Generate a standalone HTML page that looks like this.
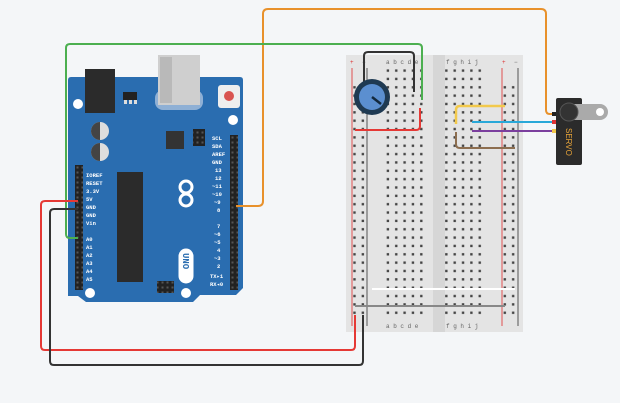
<!DOCTYPE html>
<html><head><meta charset="utf-8"><style>
html,body{margin:0;padding:0;background:#f4f6f8;}
svg{display:block;font-family:"Liberation Mono",monospace;}
</style></head><body>
<svg width="620" height="403" viewBox="0 0 620 403" xmlns="http://www.w3.org/2000/svg">
<defs>
<pattern id="h5" x="0" y="0" width="8.35" height="8.35" patternUnits="userSpaceOnUse">
<rect x="2.6" y="2.6" width="2.4" height="2.4" fill="#444"/></pattern>
<pattern id="hd" x="0" y="0" width="5" height="5" patternUnits="userSpaceOnUse">
<rect width="5" height="5" fill="#222"/><rect x="1.5" y="1.5" width="2" height="2" fill="#555"/></pattern>
</defs>
<rect width="620" height="403" fill="#f4f6f8"/>

<!-- breadboard -->
<rect x="346" y="55" width="177" height="277" fill="#e4e4e4"/>
<rect x="433" y="55" width="12" height="277" fill="#d6d6d6"/>
<g transform="translate(0,0)">
<rect x="384" y="68.5" width="42" height="250" fill="url(#h5)" transform="translate(0,0)"/>
<rect x="444" y="68.5" width="42" height="250" fill="url(#h5)"/>
<rect x="351" y="85" width="17" height="230" fill="url(#h5)"/>
<rect x="501" y="85" width="17" height="230" fill="url(#h5)"/>
</g>
<line x1="352" y1="68" x2="352" y2="326" stroke="#e05050" stroke-width="1"/>
<line x1="367" y1="68" x2="367" y2="326" stroke="#555" stroke-width="1"/>
<line x1="502" y1="68" x2="502" y2="326" stroke="#e05050" stroke-width="1"/>
<line x1="518" y1="68" x2="518" y2="326" stroke="#555" stroke-width="1"/>
<g font-size="6" fill="#666">
<text x="386" y="64">a b c d e</text><text x="446" y="64">f g h i j</text>
<text x="386" y="328">a b c d e</text><text x="446" y="328">f g h i j</text>
<text x="350" y="64" fill="#d33">+</text><text x="362" y="64">−</text>
<text x="502" y="64" fill="#d33">+</text><text x="514" y="64">−</text>
</g>
<line x1="372" y1="289" x2="515" y2="289" stroke="#fff" stroke-width="2"/>
<line x1="355" y1="306" x2="505" y2="306" stroke="#888" stroke-width="2"/>

<!-- arduino -->
<path d="M68 80 Q68 77 71 77 H240 Q243 77 243 80 V288 L236 295 H200 L193 302 H86 L78 296 L68 296 Z" fill="#2a6db0"/>
<rect x="85" y="69" width="30" height="44" fill="#2b2b2b"/>
<rect x="155" y="90" width="48" height="20" rx="8" fill="#8fb0d5"/>
<rect x="158" y="55" width="42" height="50" fill="#cfcfcf"/>
<rect x="160" y="57" width="12" height="46" fill="#b9b9b9"/>
<rect x="218" y="85" width="22" height="23" rx="3" fill="#eee"/>
<circle cx="229" cy="96" r="5" fill="#d9534f"/>
<rect x="123" y="92" width="14" height="8" fill="#222"/>
<rect x="124" y="100" width="3" height="4" fill="#ddd"/><rect x="129" y="100" width="3" height="4" fill="#ddd"/><rect x="134" y="100" width="3" height="4" fill="#ddd"/>
<circle cx="78" cy="104" r="5" fill="#fff"/><circle cx="233" cy="120" r="5" fill="#fff"/>
<circle cx="90" cy="293" r="5" fill="#fff"/><circle cx="186" cy="293" r="5" fill="#fff"/>
<circle cx="100" cy="131" r="9" fill="#ddd"/><path d="M100 122 A9 9 0 0 0 100 140Z" fill="#444"/>
<circle cx="100" cy="152" r="9" fill="#ddd"/><path d="M100 143 A9 9 0 0 0 100 161Z" fill="#444"/>
<rect x="166" y="131" width="18" height="18" fill="#333"/>
<rect x="193" y="129" width="12" height="17" fill="url(#hd)"/>
<rect x="157" y="281" width="17" height="12" fill="url(#hd)"/>
<rect x="117" y="172" width="26" height="110" fill="#2b2b2b"/>
<rect x="75" y="165" width="8" height="85" fill="url(#hd)"/>
<rect x="75" y="228" width="8" height="62" fill="url(#hd)"/>
<rect x="230" y="135" width="8" height="85" fill="url(#hd)"/>
<rect x="230" y="220" width="8" height="70" fill="url(#hd)"/>
<g font-size="5.5" fill="#fff" font-weight="bold">
<text x="86" y="177">IOREF</text><text x="86" y="185">RESET</text><text x="86" y="193">3.3V</text>
<text x="86" y="201">5V</text><text x="86" y="209">GND</text><text x="86" y="217">GND</text><text x="86" y="225">Vin</text>
<text x="86" y="241">A0</text><text x="86" y="249">A1</text><text x="86" y="257">A2</text>
<text x="86" y="265">A3</text><text x="86" y="273">A4</text><text x="86" y="281">A5</text>
<text x="212" y="140">SCL</text><text x="212" y="148">SDA</text><text x="212" y="156">AREF</text>
<text x="212" y="164">GND</text><text x="215" y="172">13</text><text x="215" y="180">12</text>
<text x="212" y="188">~11</text><text x="212" y="196">~10</text><text x="214" y="204">~9</text><text x="217" y="212">8</text>
<text x="217" y="228">7</text><text x="214" y="236">~6</text><text x="214" y="244">~5</text><text x="217" y="252">4</text>
<text x="214" y="260">~3</text><text x="217" y="268">2</text><text x="210" y="278">TX▸1</text><text x="210" y="286">RX◂0</text>
</g>
<rect x="178" y="248" width="16" height="36" rx="8" fill="#fff" stroke="#2a6db0"/>
<text x="0" y="0" font-size="9" fill="#2a6db0" font-weight="bold" transform="translate(183,253) rotate(90)">UNO</text>
<circle cx="186" cy="187" r="6" fill="none" stroke="#fff" stroke-width="3"/>
<circle cx="186" cy="200" r="6" fill="none" stroke="#fff" stroke-width="3"/>

<!-- wires -->
<g fill="none" stroke-width="2" stroke-linejoin="round">
<path d="M236 206 H258 Q263 206 263 201 V14 Q263 9 268 9 H541 Q546 9 546 14 V110 Q546 114 550 114 H556" stroke="#e8912b"/>
<path d="M78 238 H70 Q66 238 66 234 V48 Q66 44 70 44 H418 Q422 44 422 48 V100" stroke="#4caf50"/>
<path d="M78 201 H45 Q41 201 41 205 V346 Q41 350 45 350 H351 Q355 350 355 346 V315" stroke="#e53935"/>
<path d="M78 209 H54 Q50 209 50 213 V361 Q50 365 54 365 H359 Q363 365 363 361 V315" stroke="#333"/>
<path d="M364 96 V56 Q364 52 368 52 H410 Q414 52 414 56 V92" stroke="#333"/>
<path d="M355 130 H416 Q420 130 420 126 V108" stroke="#e53935"/>
<path d="M456 124 V110 Q456 106 460 106 H505" stroke="#f2c94c" stroke-width="2.5"/>
<path d="M472 122 H556" stroke="#29a8d8"/>
<path d="M472 131 H556" stroke="#7b3f9e"/>
<path d="M456 132 V144 Q456 148 460 148 H515" stroke="#8d6e4f"/>
</g>

<!-- pot -->
<circle cx="372" cy="97" r="18" fill="#1f3a52"/>
<circle cx="372" cy="97" r="13" fill="#5b8fd0"/>
<line x1="372" y1="97" x2="381" y2="104" stroke="#13293d" stroke-width="2.5"/>

<!-- servo -->
<rect x="556" y="98" width="26" height="67" rx="2" fill="#2b2b2b"/>
<path d="M569 104 H600 A8 8 0 0 1 600 120 H569 Z" fill="#aaa"/>
<circle cx="600" cy="112" r="4" fill="#fff"/>
<circle cx="569" cy="112" r="9" fill="#333" stroke="#555"/>
<rect x="552" y="112" width="4" height="4" fill="#222"/>
<rect x="552" y="120" width="4" height="4" fill="#d33"/>
<rect x="552" y="129" width="4" height="4" fill="#f2c94c"/>
<text x="0" y="0" font-size="8" fill="#e8a53a" font-family="Liberation Sans,sans-serif" transform="translate(566,128) rotate(90)">SERVO</text>
</svg>
</body></html>
